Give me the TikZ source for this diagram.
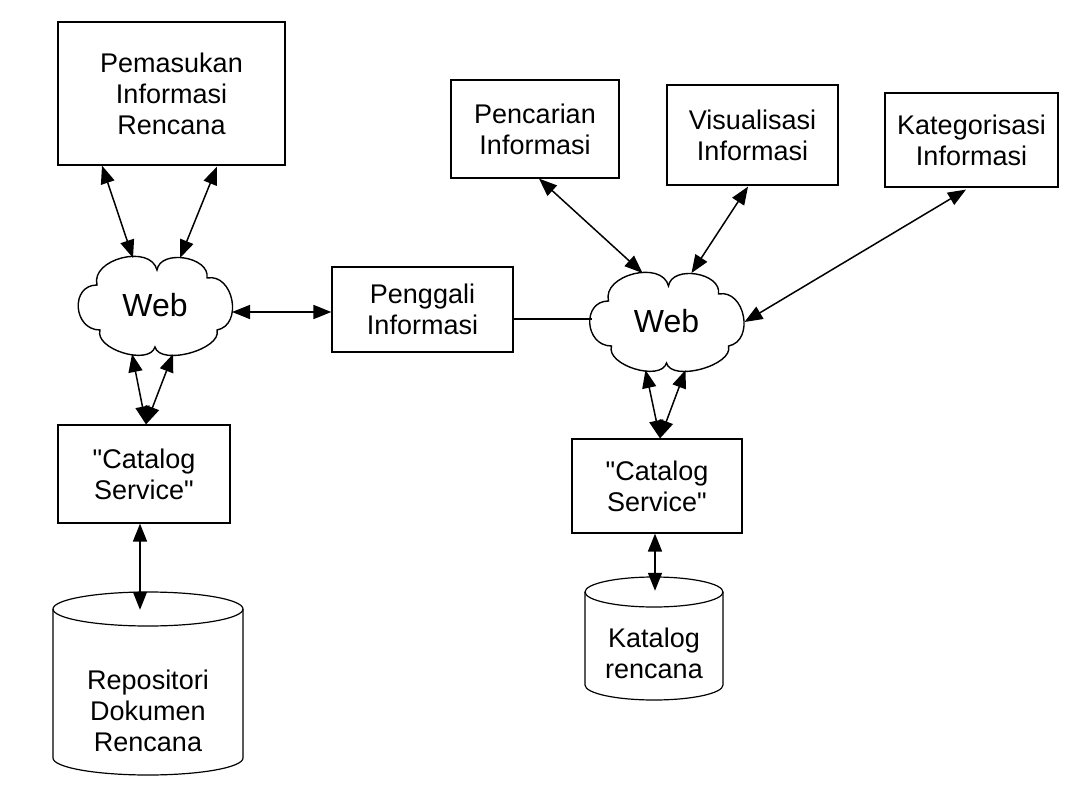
\documentclass[tikz,border=0pt]{standalone}
\usepackage{fontspec}
\setmainfont{Liberation Sans}
\newfontfamily\qfont{Liberation Sans}
\usetikzlibrary{arrows.meta,calc}
\newcommand{\webcloud}[1]{%
  \draw[cloudline,shift={(#1)}] (-55,25) .. controls (-82,25) and (-85,-20) .. (-58,-20)
    .. controls (-64.6,-46.2) and (-4.6,-61.2) .. (2,-35)
    .. controls (5.4,-56.3) and (55.4,-48.3) .. (52,-27)
    .. controls (78.5,-32.1) and (88.5,19.9) .. (62,25)
    .. controls (67.3,44.3) and (5.3,61.3) .. (0,42)
    .. controls (-5.9,61.1) and (-60.9,44.1) .. (-55,25) -- cycle;}
\newcommand{\qt}{{\qfont"}}
\begin{document}
\begin{tikzpicture}[x=1pt,y=-1pt,
  box/.style={draw,line width=1.2pt,rectangle,inner sep=0pt,align=center,font=\fontsize{27}{31}\selectfont},
  lbl/.style={inner sep=0pt,align=center,font=\fontsize{27}{31}\selectfont},
  weblbl/.style={inner sep=0pt,font=\fontsize{32}{36}\selectfont},
  conn/.style={line width=1.5pt,{Triangle[length=18pt,width=14pt]}-{Triangle[length=18pt,width=14pt]}},
  plainline/.style={line width=1.4pt},
  cloudline/.style={line width=1.4pt},
  cyl/.style={line width=1.2pt},
]
\fill[white] (0,0) rectangle (1088,808);
\useasboundingbox (0,0) rectangle (1088,808);

% boxes
\node[box,minimum width=227pt,minimum height=143pt] (pem) at (171.5,93.5) {Pemasukan\\Informasi\\Rencana};
\node[box,minimum width=168pt,minimum height=98pt] (penc) at (535,129) {Pencarian\\Informasi};
\node[box,minimum width=171pt,minimum height=100pt] (vis) at (752.5,135) {Visualisasi\\Informasi};
\node[box,minimum width=173pt,minimum height=94pt] (kat) at (971.5,140) {Kategorisasi\\Informasi};
\node[box,minimum width=181pt,minimum height=85pt] (pg) at (422.5,309.5) {Penggali\\Informasi};
\node[box,minimum width=172pt,minimum height=98pt] (catL) at (144,474) {\qt Catalog\\Service\qt};
\node[box,minimum width=170pt,minimum height=94pt] (catR) at (657,486) {\qt Catalog\\Service\qt};

% clouds
\node[weblbl,minimum width=154pt,minimum height=95pt] (wl) at (155,305) {Web};
\webcloud{wl.center}
\node[weblbl,minimum width=154pt,minimum height=95pt] (wr) at (666.5,321) {Web};
\webcloud{wr.center}

% cylinders
\node[inner sep=0pt,minimum width=190pt,minimum height=183pt] (repo) at (148,683.5) {};
\draw[cyl] (148,609) ellipse [x radius=95, y radius=17];
\draw[cyl] (53,609) -- (53,758) arc[start angle=180,end angle=0,x radius=95,y radius=17] -- (243,609);
\node[lbl] (repotxt) at (148,711) {Repositori\\Dokumen\\Rencana};

\node[inner sep=0pt,minimum width=138pt,minimum height=123pt] (katR) at (654,638.5) {};
\draw[cyl] (654,592) ellipse [x radius=69, y radius=15];
\draw[cyl] (585,592) -- (585,685) arc[start angle=180,end angle=0,x radius=69,y radius=15] -- (723,592);
\node[lbl] (katRtxt) at (654,653) {Katalog\\rencana};

% connectors left
\draw[conn] ($(pem.south)+(-69.5,0)$) -- ($(wl.center)+(-22,-47)$);
\draw[conn] ($(pem.south)+(45.5,1)$) -- ($(wl.center)+(25,-47)$);
\draw[conn] ($(wl.center)+(-23,49)$) -- ($(catL.north)+(2,0)$);
\draw[conn] ($(wl.center)+(18,49)$) -- ($(catL.north)+(2,0)$);
\draw[conn] ($(wl.center)+(77,7)$) -- ($(pg.west)+(0,2.5)$);
\draw[plainline] ($(pg.east)+(0,9.5)$) -- ($(wr.center)+(-75,-2)$);
\draw[conn] ($(catL.south)+(-4,0)$) -- ($(repo.north)+(-8,18)$);

% connectors right
\draw[conn] ($(penc.south)+(4,0)$) -- ($(wr.center)+(-24,-48)$);
\draw[conn] ($(vis.south)+(-4.5,1)$) -- ($(wr.center)+(25,-48)$);
\draw[conn] ($(kat.south)+(-5.5,2)$) -- ($(wr.center)+(78,1)$);
\draw[conn] ($(wr.center)+(-21,49)$) -- ($(catR.north)+(3,0)$);
\draw[conn] ($(wr.center)+(19,49)$) -- ($(catR.north)+(3,0)$);
\draw[conn] ($(catR.south)+(-2,0)$) -- ($(katR.north)+(1,14)$);
\end{tikzpicture}
\end{document}
